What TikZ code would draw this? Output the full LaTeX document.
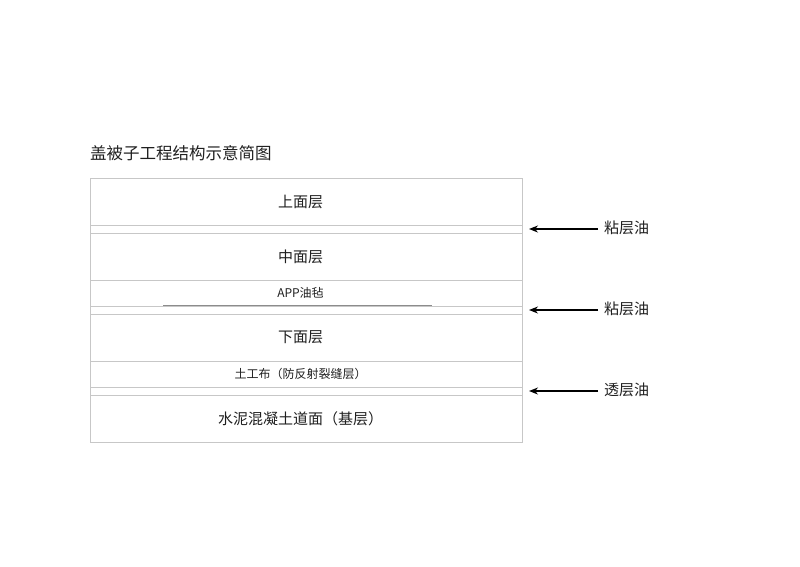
\documentclass[tikz,border=0pt]{standalone}
\usepackage{fontspec}
\setmainfont{Noto Sans CJK SC}
\usetikzlibrary{arrows.meta}
\tikzset{
  layer/.style={draw=black!22, line width=0.9pt, minimum width=432pt, inner sep=0pt, outer sep=0pt, anchor=north west, text=black!88},
  lbl/.style={anchor=west, inner sep=0pt, font=\fontsize{15}{15}\selectfont, text=black!88},
  arr/.style={-{Stealth[length=9pt,width=7pt]}, line width=1.3pt, black}
}
\newcommand{\shl}{\kern11pt\relax}
\begin{document}
\begin{tikzpicture}[x=1pt,y=-1pt]
\useasboundingbox (0,0) rectangle (800,566);
\node[anchor=west, inner sep=0pt, font=\fontsize{16.5}{16.5}\selectfont, text=black!88] (title) at (90,153) {盖被子工程结构示意简图};
\node[layer, minimum height=47pt, font=\fontsize{15}{15}\selectfont] (top) at (90,178) {上面层\shl};
\node[layer, minimum height=8pt] (g1) at (90,225) {};
\node[layer, minimum height=47pt, font=\fontsize{15}{15}\selectfont] (mid) at (90,233) {中面层\shl};
\node[layer, minimum height=26pt, font=\fontsize{12}{12}\selectfont] (app) at (90,280) {APP油毡\shl};
\node[layer, minimum height=8pt] (g2) at (90,306) {};
\node[layer, minimum height=47pt, font=\fontsize{15}{15}\selectfont] (low) at (90,314) {下面层\shl};
\node[layer, minimum height=26pt, font=\fontsize{12}{12}\selectfont] (geo) at (90,361) {土工布（防反射裂缝层）\shl};
\node[layer, minimum height=8pt] (g3) at (90,387) {};
\node[layer, minimum height=47pt, font=\fontsize{15}{15}\selectfont] (base) at (90,395) {水泥混凝土道面（基层）\shl};
\draw[black!45, line width=0.7pt] (163,305.5) -- (432,305.5);
\node[lbl] (l1) at (604,228) {粘层油};
\node[lbl] (l2) at (604,309) {粘层油};
\node[lbl] (l3) at (604,390) {透层油};
\coordinate (t1) at (529,229);
\coordinate (t2) at (529,310);
\coordinate (t3) at (529,391);
\draw[arr] (l1.west |- t1) ++(-6,0) -- (t1);
\draw[arr] (l2.west |- t2) ++(-6,0) -- (t2);
\draw[arr] (l3.west |- t3) ++(-6,0) -- (t3);
\end{tikzpicture}
\end{document}
